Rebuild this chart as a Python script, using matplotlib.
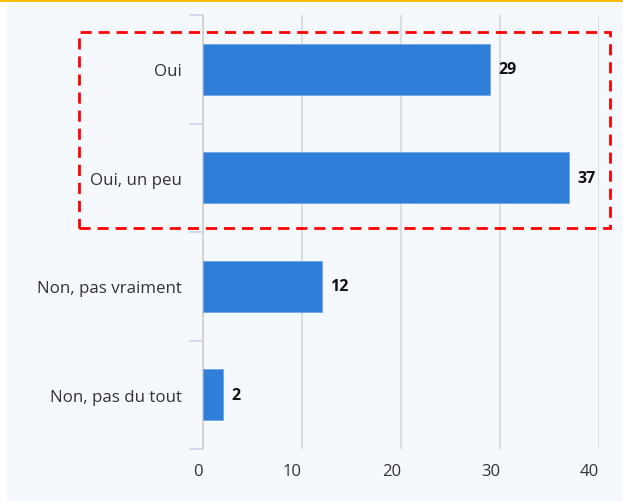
import matplotlib.pyplot as plt
from matplotlib.patches import Rectangle

categories = ["Oui", "Oui, un peu", "Non, pas vraiment", "Non, pas du tout"]
values = [29, 37, 12, 2]
xticks = [0, 10, 20, 30, 40]

plt.rcParams['font.family'] = ['Open Sans', 'DejaVu Sans']

W, H = 623, 502
fig = plt.figure(figsize=(W / 100, H / 100), dpi=100)
fig.patch.set_facecolor("#f5f8fc")

# white left strip and yellow top rule
fig.patches.append(Rectangle((0, 0), 7 / W, 1, transform=fig.transFigure,
                             facecolor="white", edgecolor="none", zorder=-5))
fig.patches.append(Rectangle((0, 1 - 3 / H), 1, 3 / H, transform=fig.transFigure,
                             facecolor="#f7bd00", edgecolor="none", zorder=-4))

left, right = 203 / W, 599 / W
top, bottom = 1 - 16 / H, 1 - 450 / H
ax = fig.add_axes([left, bottom, right - left, top - bottom])
ax.set_facecolor("none")

pos = list(range(len(categories)))
ax.barh(pos, values, height=0.47, color="#2f7ed8", edgecolor="#6fa6e6", linewidth=0.6, zorder=3)
ax.set_ylim(len(categories) - 0.5, -0.5)
ax.set_xlim(0, 40)

for p, v in zip(pos, values):
    ax.annotate(str(v), (v, p), xytext=(6, 0), textcoords="offset points",
                va="center", ha="left", fontsize=11.5, fontweight="bold", color="#111111")

ax.set_xticks(xticks)
ax.set_xticklabels([str(t) for t in xticks], fontsize=12, color="#333333", ha="right")
ax.tick_params(axis="x", length=0, pad=10)
ax.grid(axis="x", color="#d8d8d8", linewidth=1.2, zorder=0)

ax.set_yticks([p - 0.5 for p in pos] + [len(categories) - 0.5], minor=False)
ax.set_yticklabels([])
ax.tick_params(axis="y", length=10, width=1.2, color="#ccd6eb", direction="out")
ax.set_yticks(pos, minor=True)
ax.set_yticklabels(categories, minor=True, fontsize=12.2, color="#333333")
ax.tick_params(axis="y", which="minor", length=0, pad=15)

for s in ["top", "right", "bottom"]:
    ax.spines[s].set_visible(False)
ax.spines["left"].set_color("#d0d0d0")
ax.spines["left"].set_linewidth(1.2)

# red dashed highlight box
x0, x1 = 79 / W, 610 / W
y0, y1 = 1 - 229 / H, 1 - 33 / H
fig.patches.append(Rectangle((x0, y0), x1 - x0, y1 - y0, transform=fig.transFigure,
                             facecolor="none", edgecolor="#ff0000", linewidth=2,
                             linestyle=(0, (4, 2.5)), zorder=10))

fig.savefig("out.png", dpi=100, facecolor=fig.get_facecolor())
